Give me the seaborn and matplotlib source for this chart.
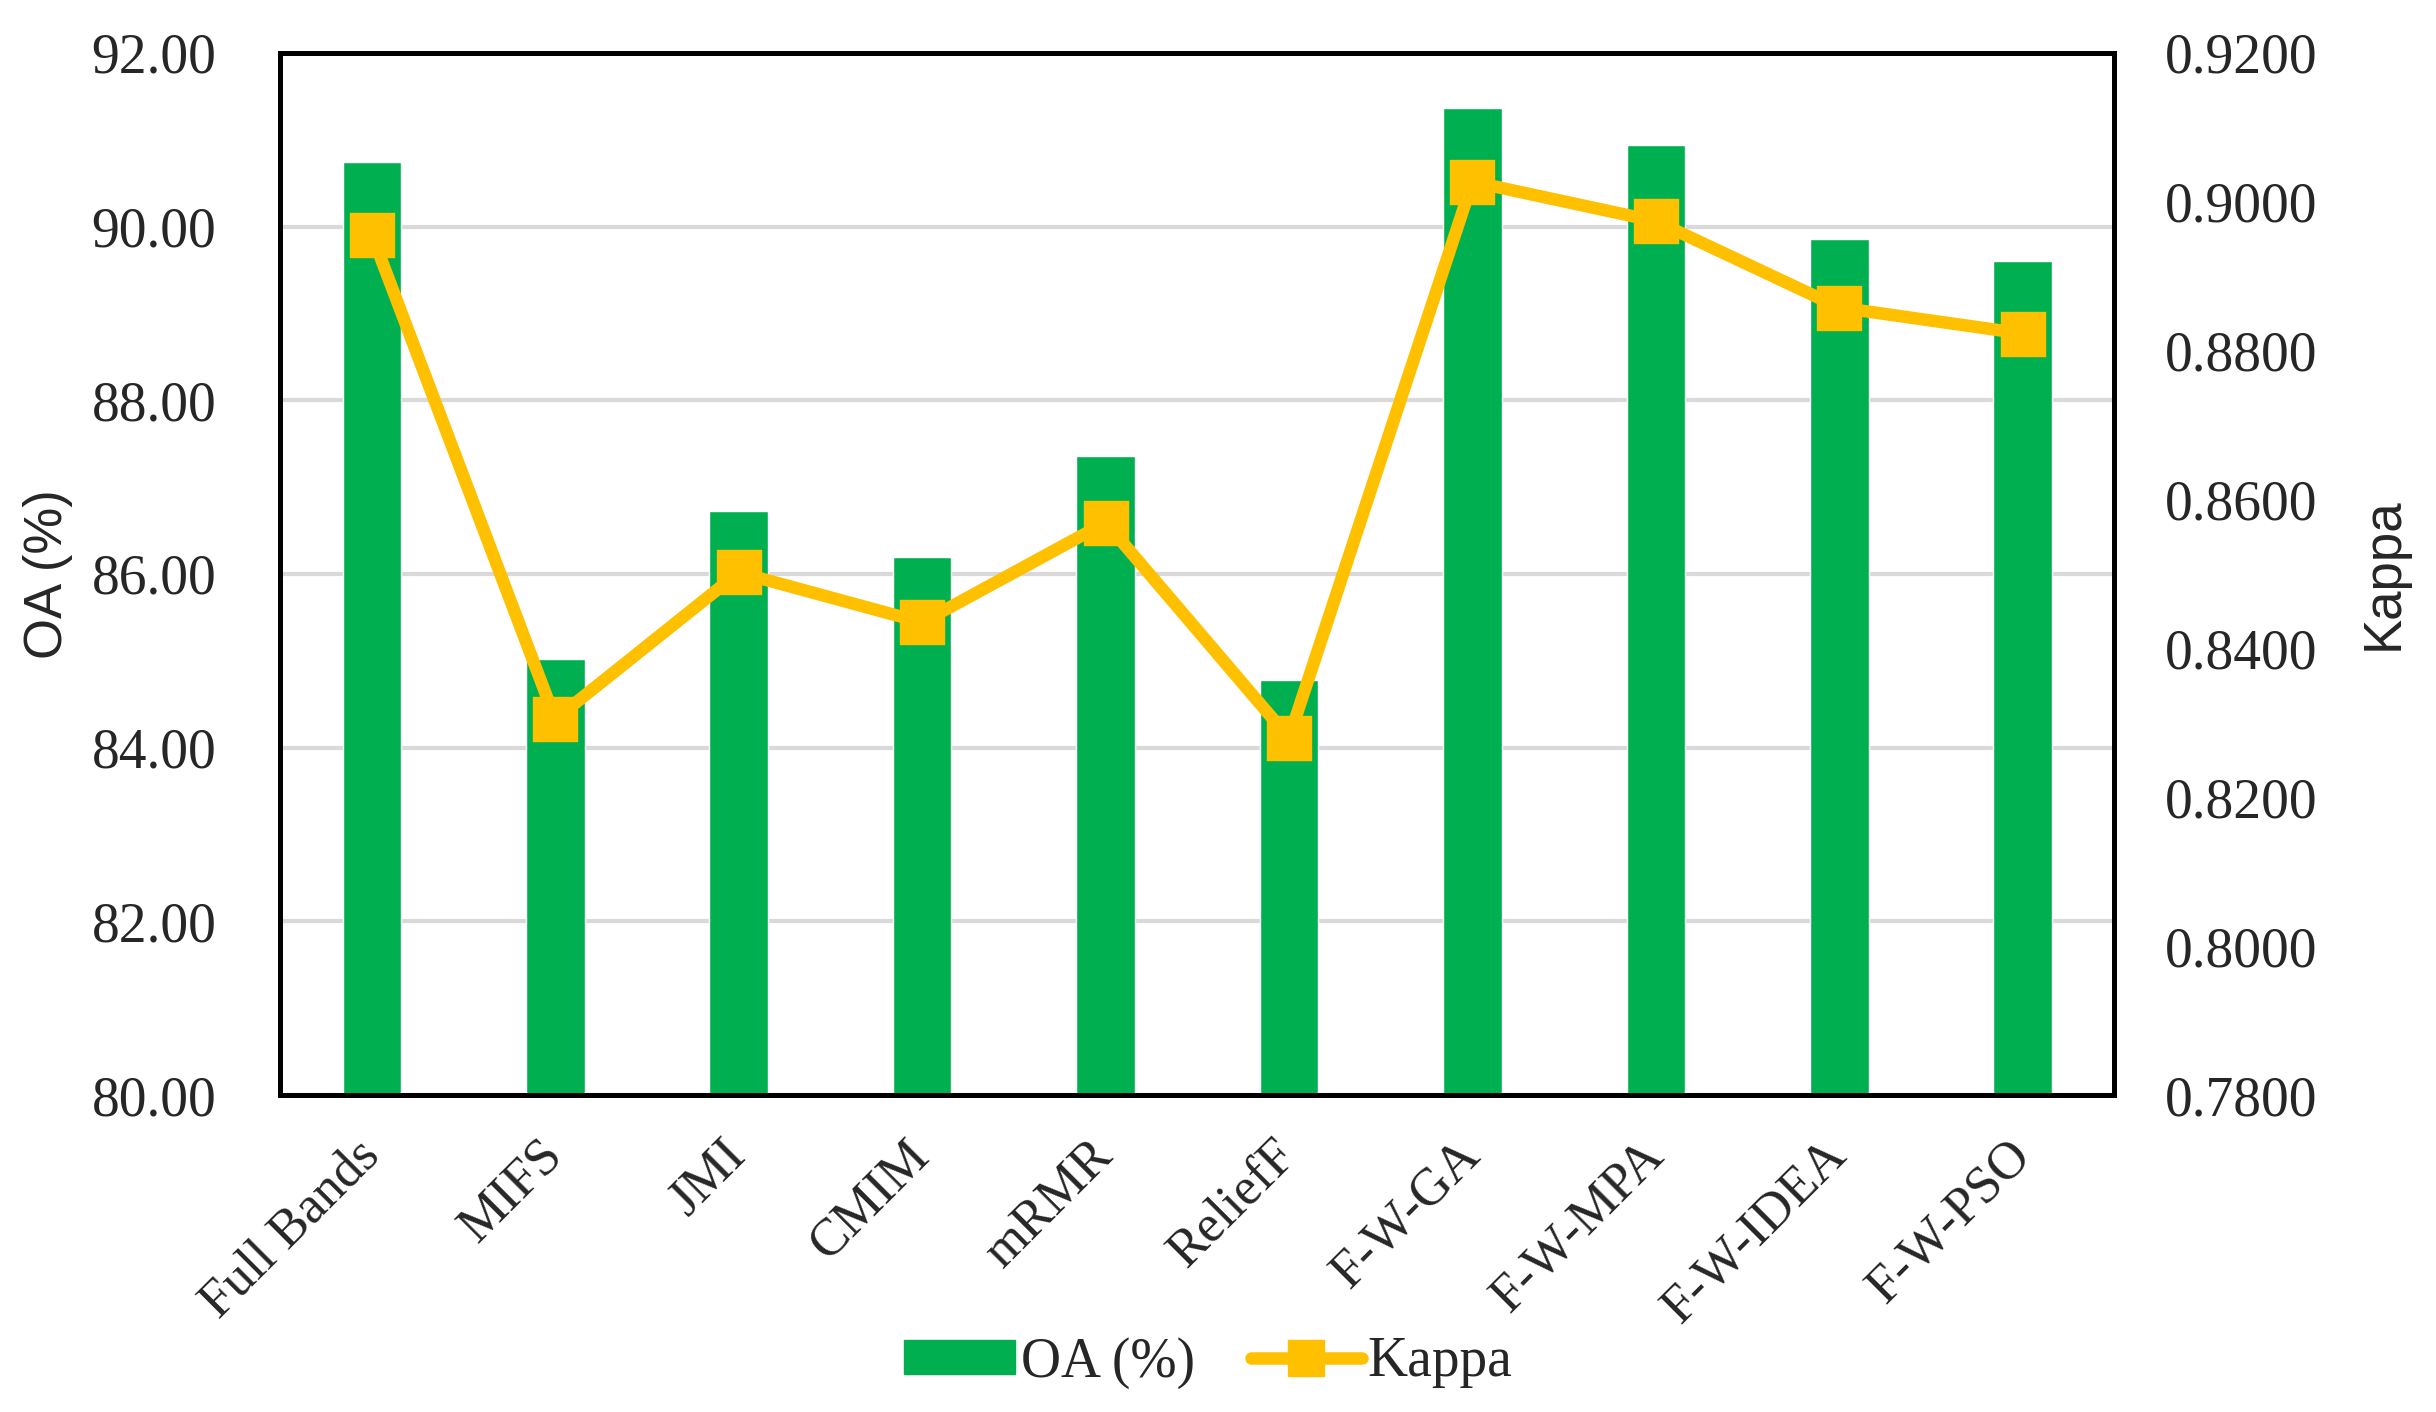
import numpy as np
import matplotlib
matplotlib.use('Agg')
import matplotlib.pyplot as plt
import seaborn as sns
from matplotlib.patches import Patch
from matplotlib.lines import Line2D

# data
methods = ['Full Bands', 'MIFS', 'JMI', 'CMIM', 'mRMR', 'ReliefF',
           'F-W-GA', 'F-W-MPA', 'F-W-IDEA', 'F-W-PSO']
oa = [90.74, 85.02, 86.72, 86.20, 87.36, 84.78, 91.37, 90.94, 89.86, 89.60]
kappa = [0.8956, 0.8305, 0.8502, 0.8435, 0.8569, 0.8280, 0.9027, 0.8974, 0.8858, 0.8823]

oa_ticks = [80, 82, 84, 86, 88, 90, 92]
kappa_ticks = [0.78, 0.80, 0.82, 0.84, 0.86, 0.88, 0.90, 0.92]

green = '#00B050'
yellow = '#FFC000'

sns.set_theme(style='white')
plt.rcParams['font.family'] = ['Liberation Serif', 'DejaVu Serif']

fig = plt.figure(figsize=(24.36, 14.12), dpi=100)
ax = fig.add_axes([0.115, 0.2245, 0.753, 0.738])

sns.barplot(x=methods, y=oa, color=green, width=0.32, saturation=1, ax=ax)
ax.set_ylim(80, 92)
ax.set_yticks(oa_ticks)
ax.set_yticklabels([f'{v:.2f}' for v in oa_ticks])
ax.set_axisbelow(True)
ax.yaxis.grid(True, color='#D9D9D9', linewidth=3)
ax.xaxis.grid(False)

ax2 = ax.twinx()
sns.pointplot(x=methods, y=kappa, color=yellow, marker='s', markersize=26,
              linewidth=9, ax=ax2)
ax2.set_ylim(0.78, 0.92)
ax2.set_yticks(kappa_ticks)
ax2.set_yticklabels([f'{v:.4f}' for v in kappa_ticks])
ax2.grid(False)

ax.set_xlim(-0.5, len(methods) - 0.5)

for a in (ax, ax2):
    for s in a.spines.values():
        s.set_visible(True)
        s.set_color('black')
        s.set_linewidth(3.5)

ax.tick_params(axis='y', length=0, pad=46, labelsize=40)
ax2.tick_params(axis='y', length=0, pad=36, labelsize=40)
ax.tick_params(axis='x', length=0, pad=38, labelsize=38)
plt.setp(ax.get_xticklabels(), rotation=45, ha='right', va='center',
         rotation_mode='anchor')

ax.set_xlabel('')
ax.set_ylabel('OA (%)', fontsize=38, family=['Liberation Sans', 'DejaVu Sans'])
ax2.set_ylabel('Kappa', fontsize=38, family=['Liberation Sans', 'DejaVu Sans'])
ax.yaxis.set_label_coords(-0.113, 0.5)
ax2.yaxis.set_label_coords(1.133, 0.5)

handles = [Patch(facecolor=green, edgecolor=green),
           Line2D([0], [0], color=yellow, linewidth=9, marker='s', markersize=26)]
fig.legend(handles, ['OA (%)', 'Kappa'], loc='center', bbox_to_anchor=(0.496, 0.035),
           ncol=2, frameon=False, fontsize=40, handlelength=2.0, handleheight=0.55,
           handletextpad=0.1, columnspacing=1.0)

fig.savefig('out.png', dpi=100)
